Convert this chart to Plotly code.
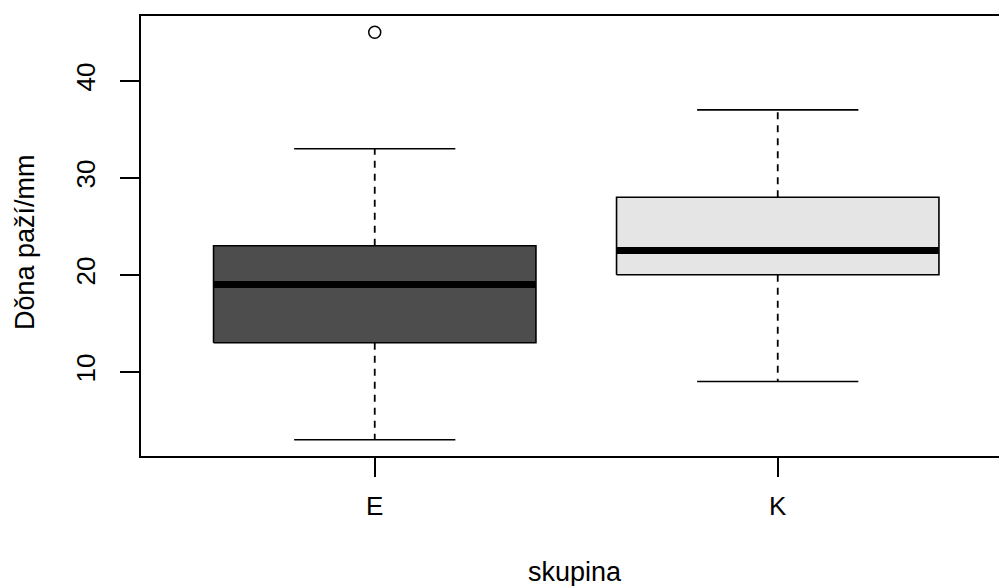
import plotly.graph_objects as go

# Group labels and five-number summaries (whisker low, Q1, median, Q3, whisker high)
groups = ["E", "K"]
positions = [1, 2]
whisker_low = [3, 9]
q1 = [13, 20]
median = [19, 22.5]
q3 = [23, 28]
whisker_high = [33, 37]
fill_colors = ["#4D4D4D", "#E5E5E5"]

# Points outside the whiskers
outlier_group = [1]
outlier_value = [45]

y_ticks = [10, 20, 30, 40]
x_title = "skupina"
y_title = "Dǒna paží/mm"

box_half = 0.4
cap_half = 0.2
family = "Liberation Sans, Arial, sans-serif"
tick_font = dict(family=family, size=26, color="#000000")
title_font = dict(family=family, size=27, color="#000000")

fig = go.Figure()

for i, pos in enumerate(positions):
    # dashed whiskers from box edges to the whisker ends
    fig.add_trace(go.Scatter(
        x=[pos, pos, None, pos, pos],
        y=[q3[i], whisker_high[i], None, q1[i], whisker_low[i]],
        mode="lines", line=dict(color="#000000", width=1.8, dash="7px,6px"),
        hoverinfo="skip", showlegend=False))
    # solid caps
    fig.add_trace(go.Scatter(
        x=[pos - cap_half, pos + cap_half, None, pos - cap_half, pos + cap_half],
        y=[whisker_high[i], whisker_high[i], None, whisker_low[i], whisker_low[i]],
        mode="lines", line=dict(color="#000000", width=1.6),
        hoverinfo="skip", showlegend=False))
    # filled box
    fig.add_trace(go.Scatter(
        x=[pos - box_half, pos + box_half, pos + box_half, pos - box_half, pos - box_half],
        y=[q1[i], q1[i], q3[i], q3[i], q1[i]],
        mode="lines", fill="toself", fillcolor=fill_colors[i],
        line=dict(color="#000000", width=1.6),
        hoverinfo="skip", showlegend=False))
    # thick median bar
    fig.add_trace(go.Scatter(
        x=[pos - box_half, pos + box_half],
        y=[median[i], median[i]],
        mode="lines", line=dict(color="#000000", width=7),
        hoverinfo="skip", showlegend=False))

fig.add_trace(go.Scatter(
    x=outlier_group, y=outlier_value, mode="markers",
    marker=dict(symbol="circle-open", size=12, color="#000000", line=dict(width=1.5)),
    hoverinfo="skip", showlegend=False))

# axis limits extended by 4% of the data range
all_vals = whisker_low + whisker_high + outlier_value
lo, hi = min(all_vals), max(all_vals)
pad = 0.04 * (hi - lo)
y_range = [lo - pad, hi + pad]
x_lo = 0.5 - 0.04 * (len(groups))
x_range = [x_lo, x_lo + (999 - 141) / 403.0]

fig.update_layout(
    width=999, height=586,
    margin=dict(l=141, r=0, t=16, b=130),
    paper_bgcolor="white", plot_bgcolor="white",
    font=tick_font,
    xaxis=dict(range=x_range, tickvals=positions, ticktext=groups,
               ticks="outside", ticklen=19, tickwidth=1.5, tickcolor="#000000",
               showline=True, linecolor="#000000", linewidth=1.5, mirror=True,
               showgrid=False, zeroline=False, ticklabelstandoff=7,
               tickfont=tick_font),
    yaxis=dict(range=y_range, tickvals=y_ticks, ticks="outside", ticklen=19,
               tickwidth=1.5, tickcolor="#000000", tickangle=-90,
               showline=True, linecolor="#000000", linewidth=1.5,
               showgrid=False, zeroline=False, ticklabelstandoff=15,
               tickfont=tick_font),
    annotations=[
        dict(text=x_title, xref="paper", yref="paper", x=(575 - 141) / 858, y=0,
             xanchor="center", yanchor="middle", yshift=-116, showarrow=False,
             font=title_font),
        dict(text=y_title, xref="paper", yref="paper", x=0, y=(456 - 242) / 440,
             xanchor="center", yanchor="middle", xshift=-116, textangle=-90,
             showarrow=False, font=title_font),
    ],
)

fig.write_html("out.html")
